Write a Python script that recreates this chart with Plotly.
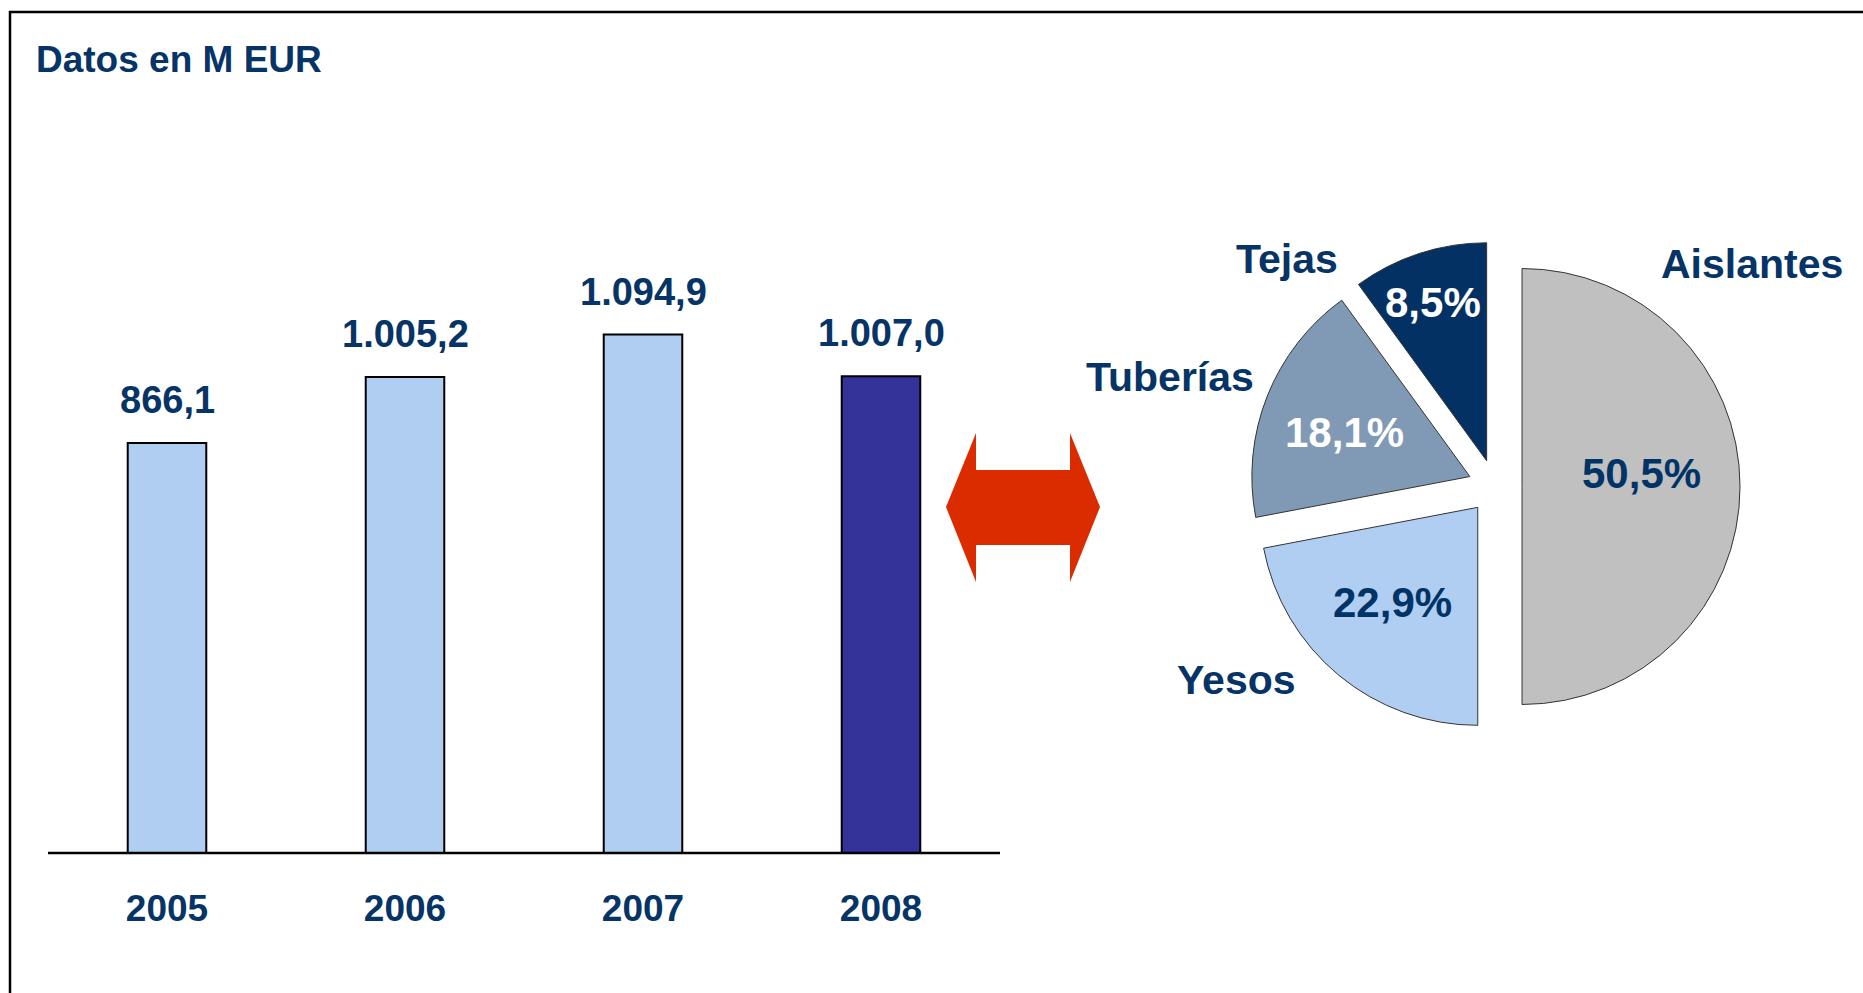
import plotly.graph_objects as go

# ---- data ----
years = ["2005", "2006", "2007", "2008"]
revenue = [866.1, 1005.2, 1094.9, 1007.0]
bar_colors = ["#B0CDF2", "#B0CDF2", "#B0CDF2", "#333399"]

segments = ["Aislantes", "Yesos", "Tuberías", "Tejas"]
shares_label = [50.5, 22.9, 18.1, 8.5]      # percentages as printed on the chart
slice_values = [50.0, 22.0, 18.0, 10.0]     # slice sizes as drawn in the picture
seg_colors = ["#C0C0C0", "#B0CDF2", "#8099B4", "#033163"]
seg_text_colors = ["#003366", "#003366", "#FFFFFF", "#FFFFFF"]

NAVY = "#063466"
FONT = "Liberation Sans, Arial, sans-serif"
W, H = 1863, 993


def px(x):
    return x / W


def py(y):
    return (H - y) / H


def fmt_es(v, dec=1):
    s = f"{v:,.{dec}f}"
    return s.replace(",", "X").replace(".", ",").replace("X", ".")


xpos = list(range(len(years)))

fig = go.Figure()

fig.add_trace(go.Bar(
    x=xpos, y=revenue,
    marker=dict(color=bar_colors, line=dict(color="#000000", width=2)),
    width=0.33,
    hoverinfo="skip",
))

# pie
cx, cy, r, pull = 1495, 486.5, 218, 0.124
half = r * (1 + pull)
fig.add_trace(go.Pie(
    labels=segments, values=slice_values,
    textinfo="none",
    marker=dict(colors=seg_colors, line=dict(color="#333333", width=1)),
    sort=False, direction="clockwise", rotation=0,
    pull=[pull] * 4, showlegend=False, hoverinfo="skip",
    domain=dict(x=[px(cx - half), px(cx + half)], y=[py(cy + half), py(cy - half)]),
))

annotations = []
# title
annotations.append(dict(
    text="Datos en M EUR", xref="paper", yref="paper",
    x=px(34), y=py(59), xanchor="left", yanchor="middle", showarrow=False,
    font=dict(family=FONT, size=37, color=NAVY, weight="bold"),
))
# bar value labels
for i, v in zip(xpos, revenue):
    annotations.append(dict(
        text=fmt_es(v), x=i, y=v, xref="x", yref="y",
        xanchor="center", yanchor="middle", yshift=43, showarrow=False,
        font=dict(family=FONT, size=38, color=NAVY, weight="bold"),
    ))
# pie category labels and percentages
label_pos = {"Aislantes": (1752, 264), "Tejas": (1287, 259),
             "Tuberías": (1170, 377), "Yesos": (1236, 680)}
pct_pos = {"Aislantes": (1641, 473), "Yesos": (1392, 603),
           "Tuberías": (1344, 433), "Tejas": (1433, 302)}
for s, v, tc in zip(segments, shares_label, seg_text_colors):
    lx, ly = label_pos[s]
    annotations.append(dict(
        text=s, xref="paper", yref="paper", x=px(lx), y=py(ly),
        xanchor="center", yanchor="middle", showarrow=False,
        font=dict(family=FONT, size=41, color=NAVY, weight="bold"),
    ))
    qx, qy = pct_pos[s]
    annotations.append(dict(
        text=fmt_es(v) + "%", xref="paper", yref="paper", x=px(qx), y=py(qy),
        xanchor="center", yanchor="middle", showarrow=False,
        font=dict(family=FONT, size=42, color=tc, weight="bold"),
    ))

shapes = []
# frame (open to the right and bottom)
shapes.append(dict(type="rect", xref="paper", yref="paper",
                   x0=px(10), x1=1.05, y0=-0.05, y1=py(12),
                   line=dict(color="#000000", width=2.5), fillcolor="rgba(0,0,0,0)"))
# double arrow
pts = [(946, 507), (976, 433), (976, 470), (1070, 470), (1070, 433), (1100, 507),
       (1070, 582), (1070, 545), (976, 545), (976, 582)]
path = "M " + " L ".join(f"{px(a):.5f},{py(b):.5f}" for a, b in pts) + " Z"
shapes.append(dict(type="path", xref="paper", yref="paper", path=path,
                   fillcolor="#DB2C00", line=dict(width=0)))
# baseline
base_y = 853
shapes.append(dict(type="line", xref="paper", yref="paper",
                   x0=px(48), x1=px(1000), y0=py(base_y), y1=py(base_y),
                   line=dict(color="#000000", width=2.5)))

ymax = 1400
scale = 0.4735
top_y = base_y - ymax * scale

fig.update_layout(
    width=W, height=H,
    margin=dict(l=0, r=0, t=0, b=0, autoexpand=False),
    paper_bgcolor="#FFFFFF", plot_bgcolor="rgba(0,0,0,0)",
    showlegend=False,
    xaxis=dict(domain=[px(48), px(1000)], range=[-0.5, len(years) - 0.5],
               tickmode="array", tickvals=xpos, ticktext=years,
               showgrid=False, zeroline=False, showline=False, ticks="",
               ticklabelstandoff=30, automargin=False,
               tickfont=dict(family=FONT, size=37, color=NAVY, weight="bold"),
               fixedrange=True),
    yaxis=dict(domain=[py(base_y), py(top_y)], range=[0, ymax], visible=False,
               automargin=False, fixedrange=True),
    annotations=annotations,
    shapes=shapes,
)

fig.write_html("out.html", config={"displayModeBar": False},
               post_script="document.body.style.margin='0';")
